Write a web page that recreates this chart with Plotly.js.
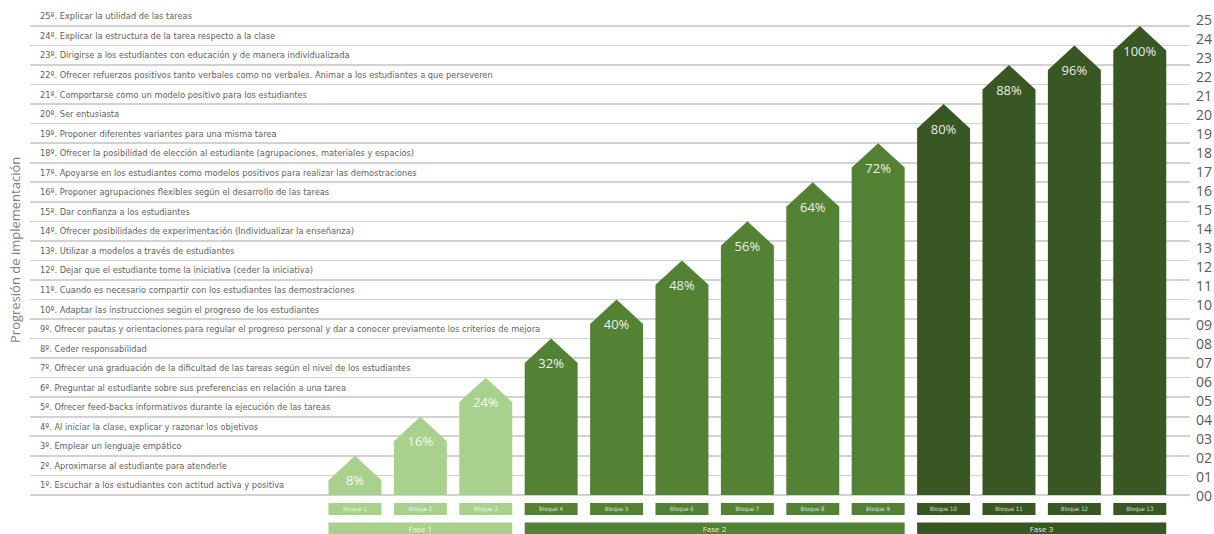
<!DOCTYPE html>
<html>
<head>
<meta charset="utf-8">
<script src="https://cdn.plot.ly/plotly-3.0.1.min.js"></script>
<style>html,body{margin:0;padding:0;background:#fff;} #chart{width:1214px;height:534px;}</style>
</head>
<body>
<div id="chart"></div>
<script>
// ---------- DATA ----------
const bloques = ['Bloque 1','Bloque 2','Bloque 3','Bloque 4','Bloque 5','Bloque 6','Bloque 7',
  'Bloque 8','Bloque 9','Bloque 10','Bloque 11','Bloque 12','Bloque 13'];
const porcentajes = [8,16,24,32,40,48,56,64,72,80,88,96,100];
const niveles = [2,4,6,8,10,12,14,16,18,20,22,23,24];
const faseDeBloque = [0,0,0,1,1,1,1,1,1,2,2,2,2];
const fases = ['Fase 1','Fase 2','Fase 3'];
const acciones = [
  "1º. Escuchar a los estudiantes con actitud activa y positiva",
  "2º. Aproximarse al estudiante para atenderle",
  "3º. Emplear un lenguaje empático",
  "4º. Al iniciar la clase, explicar y razonar los objetivos",
  "5º. Ofrecer feed-backs informativos durante la ejecución de las tareas",
  "6º. Preguntar al estudiante sobre sus preferencias en relación a una tarea",
  "7º. Ofrecer una graduación de la dificultad de las tareas según el nivel de los estudiantes",
  "8º. Ceder responsabilidad",
  "9º. Ofrecer pautas y orientaciones para regular el progreso personal y dar a conocer previamente los criterios de mejora",
  "10º. Adaptar las instrucciones según el progreso de los estudiantes",
  "11º. Cuando es necesario compartir con los estudiantes las demostraciones",
  "12º. Dejar que el estudiante tome la iniciativa (ceder la iniciativa)",
  "13º. Utilizar a modelos a través de estudiantes",
  "14º. Ofrecer posibilidades de experimentación (Individualizar la enseñanza)",
  "15º. Dar confianza a los estudiantes",
  "16º. Proponer agrupaciones flexibles según el desarrollo de las tareas",
  "17º. Apoyarse en los estudiantes como modelos positivos para realizar las demostraciones",
  "18º. Ofrecer la posibilidad de elección al estudiante (agrupaciones, materiales y espacios)",
  "19º. Proponer diferentes variantes para una misma tarea",
  "20º. Ser entusiasta",
  "21º. Comportarse como un modelo positivo para los estudiantes",
  "22º. Ofrecer refuerzos positivos tanto verbales como no verbales. Animar a los estudiantes a que perseveren",
  "23º. Dirigirse a los estudiantes con educación y de manera individualizada",
  "24º. Explicar la estructura de la tarea respecto a la clase",
  "25º. Explicar la utilidad de las tareas"
];
const escalaTicks = ['00','01','02','03','04','05','06','07','08','09','10','11','12',
  '13','14','15','16','17','18','19','20','21','22','23','24','25'];
const tituloEje = 'Progresión de implementación';

// ---------- STYLE ----------
const colores = ['#a9d18e', '#548235', '#385723'];
const ANCHO = 0.81;   // bar width (x units)
const PUNTA = 1.25;   // arrow head height (y units)
const FONT = 'Open Sans, Noto Sans, sans-serif';
const NARROW = 'Liberation Sans Narrow, DejaVu Sans Condensed, Open Sans, sans-serif';

const xs = bloques.map((_, i) => i + 1);
const traces = [];

// arrows (pentagons)
bloques.forEach((b, i) => {
  const c = xs[i], w = ANCHO / 2, p = niveles[i];
  traces.push({
    type: 'scatter', mode: 'lines', fill: 'toself',
    x: [c - w, c - w, c, c + w, c + w, c - w],
    y: [0, p - PUNTA, p, p - PUNTA, 0, 0],
    fillcolor: colores[faseDeBloque[i]],
    line: {width: 0, color: colores[faseDeBloque[i]]},
    hoverinfo: 'skip', showlegend: false
  });
});

// percentage labels
traces.push({
  type: 'scatter', mode: 'text',
  x: xs, y: niveles.map(p => p - PUNTA - 0.1),
  text: porcentajes.map(v => v + '%'),
  textposition: 'middle center',
  textfont: {family: FONT, size: 13, color: 'rgba(255,255,255,0.92)'},
  hoverinfo: 'skip', showlegend: false
});

// bloque boxes
traces.push({
  type: 'bar', x: xs, y: bloques.map(() => 0.62), base: -1.03,
  width: ANCHO,
  marker: {color: faseDeBloque.map(f => colores[f]), line: {width: 0}},
  text: bloques, textposition: 'inside', insidetextanchor: 'middle',
  textangle: 0, constraintext: 'none',
  textfont: {family: NARROW, size: 6, color: 'rgba(255,255,255,0.8)'},
  hoverinfo: 'skip', showlegend: false
});

// fase boxes
const faseX = fases.map((f, k) => {
  const idx = xs.filter((_, i) => faseDeBloque[i] === k);
  return (Math.min(...idx) + Math.max(...idx)) / 2;
});
const faseW = fases.map((f, k) => {
  const idx = xs.filter((_, i) => faseDeBloque[i] === k);
  return Math.max(...idx) - Math.min(...idx) + ANCHO;
});
traces.push({
  type: 'bar', x: faseX, y: fases.map(() => 0.62), base: -2.03,
  width: faseW,
  marker: {color: colores, line: {width: 0}},
  text: fases, textposition: 'inside', insidetextanchor: 'middle',
  textangle: 0, constraintext: 'none',
  textfont: {family: FONT, size: 8, color: 'rgba(255,255,255,0.85)'},
  hoverinfo: 'skip', showlegend: false
});

// dummy trace for the right scale axis
traces.push({type: 'scatter', mode: 'markers', x: [1], y: [0], yaxis: 'y2',
  marker: {opacity: 0}, hoverinfo: 'skip', showlegend: false});

const niveles0 = acciones.map((_, k) => k); // gridline levels 0..24

const layout = {
  width: 1214, height: 534,
  margin: {l: 30, r: 24, t: 7, b: 0},
  paper_bgcolor: '#ffffff', plot_bgcolor: '#ffffff',
  showlegend: false, barmode: 'overlay',
  xaxis: {range: [-3.969, 13.768], showgrid: false, zeroline: false,
    showticklabels: false, ticks: '', fixedrange: true},
  yaxis: {range: [-2.0, 24.97], zeroline: false, showgrid: false,
    tickmode: 'array', tickvals: acciones.map((_, k) => k + 0.5), ticktext: acciones,
    ticklabelposition: 'inside', ticks: '', ticklabelstandoff: 7,
    tickfont: {family: NARROW, size: 9.2, color: '#626262'},
    minor: {tickmode: 'array', tickvals: niveles0, showgrid: true,
      gridcolor: '#d2d2d2', gridwidth: 1.6, ticks: ''}},
  yaxis2: {overlaying: 'y', side: 'right', range: [-1.996, 25.68],
    showgrid: false, zeroline: false, ticks: '',
    tickmode: 'array', tickvals: escalaTicks.map((_, k) => k), ticktext: escalaTicks,
    ticklabelstandoff: 5,
    tickfont: {family: FONT, size: 14, color: '#595959'}},
  annotations: [{
    text: tituloEje, xref: 'paper', yref: 'paper',
    x: -0.0129, y: 0.539, textangle: -90, showarrow: false,
    xanchor: 'center', yanchor: 'middle',
    font: {family: FONT, size: 13, color: '#7f7f7f'}
  }]
};

Plotly.newPlot('chart', traces, layout, {displayModeBar: false, staticPlot: true});
</script>
</body>
</html>
